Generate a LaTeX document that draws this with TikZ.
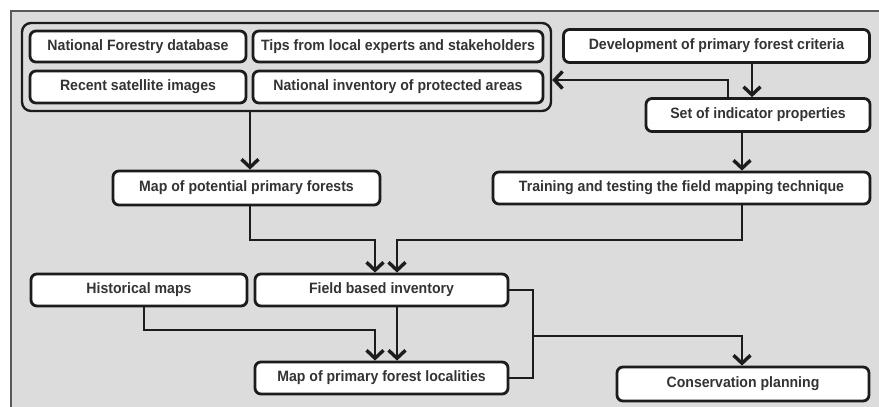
\documentclass[tikz,border=0pt]{standalone}
\usepackage{fontspec}
\newfontfamily\boxfont[FakeStretch=0.94]{Liberation Sans}
\usetikzlibrary{arrows.meta}
\definecolor{panel}{HTML}{DCDCDC}
\definecolor{ink}{HTML}{1C1C1C}
\definecolor{txt}{HTML}{333333}
\tikzset{
  bx/.style={draw=ink, line width=2.8pt, rounded corners=6pt, fill=white,
    text=txt, font=\boxfont\bfseries\fontsize{15}{17}\selectfont, inner sep=0pt},
  grp/.style={draw=ink, line width=2.4pt, rounded corners=9pt},
  conn/.style={draw=ink, line width=2.6pt, line join=miter},
  arr/.style={conn, -{Straight Barb[length=8pt,width=17pt,line width=3.4pt]}},
}
\begin{document}
\begin{tikzpicture}[x=1pt,y=-1pt]
\useasboundingbox (0,0) rectangle (879,407);
\fill[white] (0,0) rectangle (879,407);
\fill[panel] (11,11) rectangle (879,407);
\draw[gray!70!black, line width=1.2pt] (11,407) -- (11,11) -- (879,11);

% group of sources
\node[grp, minimum width=529pt, minimum height=88pt] (group) at (286.5,67) {};
\node[bx, minimum width=216pt, minimum height=31pt] (nfd) at (138,46.5) {National Forestry database};
\node[bx, minimum width=290pt, minimum height=31pt] (tips) at (398,46.5) {Tips from local experts and stakeholders};
\node[bx, minimum width=216pt, minimum height=32pt] (rsi) at (138,87) {Recent satellite images};
\node[bx, minimum width=290pt, minimum height=32pt] (nip) at (398,87) {National inventory of protected areas};

\node[bx, minimum width=306pt, minimum height=33pt] (dev) at (716.5,46) {Development of primary forest criteria};
\node[bx, minimum width=224pt, minimum height=33pt] (set) at (758,115) {Set of indicator properties};
\node[bx, minimum width=267pt, minimum height=34pt] (mpp) at (246.5,188) {Map of potential primary forests};
\node[bx, minimum width=377pt, minimum height=32pt] (train) at (681.5,188) {Training and testing the field mapping technique};
\node[bx, minimum width=216pt, minimum height=32pt] (hist) at (139,290) {Historical maps};
\node[bx, minimum width=253pt, minimum height=32pt] (fbi) at (381.5,290) {Field based inventory};
\node[bx, minimum width=253pt, minimum height=32pt] (mpl) at (381.5,378) {Map of primary forest localities};
\node[bx, minimum width=252pt, minimum height=34pt] (cons) at (743,384) {Conservation planning};

% helper coordinates
\coordinate (x144) at (144,0);
\coordinate (x250) at (250,0);
\coordinate (x375) at (375,0);
\coordinate (x397) at (397,0);
\coordinate (x533) at (533,0);
\coordinate (x728) at (728,0);
\coordinate (x742) at (742,0);
\coordinate (x752) at (752,0);
\coordinate (y80) at (0,80);
\coordinate (y240) at (0,240);
\coordinate (y330) at (0,330);
\coordinate (y336) at (0,336);

% connectors
\draw[arr] (group.south -| x250) -- (mpp.north -| x250);
\draw[arr] (dev.south -| x752) -- (set.north -| x752);
\draw[arr] (set.north -| x728) |- (group.east |- y80);
\draw[arr] (set.south -| x742) -- (train.north -| x742);
\draw[arr] (mpp.south -| x250) |- (x375 |- y240) -- (fbi.north -| x375);
\draw[arr] (train.south -| x742) |- (x397 |- y240) -- (fbi.north -| x397);
\draw[arr] (hist.south -| x144) |- (x375 |- y330) -- (mpl.north -| x375);
\draw[arr] (fbi.south -| x397) -- (mpl.north -| x397);
\draw[conn] (fbi.east) -| (x533 |- mpl.east) -- (mpl.east);
\draw[arr] (x533 |- y336) -| (cons.north -| x742);
\end{tikzpicture}
\end{document}
